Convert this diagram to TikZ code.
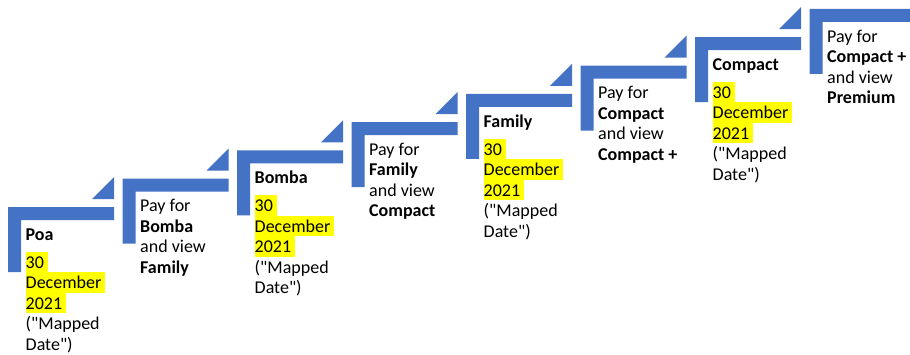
\documentclass[tikz,border=0pt]{standalone}
\usepackage{fontspec}
\setmainfont{Carlito}[Ligatures=TeXOff]
\definecolor{stepblue}{HTML}{4472C4}
\definecolor{hlyellow}{HTML}{FFFF00}
\newcommand{\hstrut}{\rule[-4pt]{0pt}{20.5pt}}
\newcommand{\hl}[1]{{\fboxsep=0pt\colorbox{hlyellow}{\hstrut#1\kern4pt}}}
\tikzset{
  stepbar/.style={fill=stepblue, draw=none},
  steptext/.style={anchor=north west, inner sep=0pt, align=left,
    xshift=17.5pt, yshift=-16.5pt, font=\fontsize{18}{20.5}\selectfont}
}
\begin{document}
\begin{tikzpicture}[x=1pt,y=-1pt]
\useasboundingbox (0,0) rectangle (910,354);
\clip (0,0) rectangle (910,354);

% the stairs
\foreach \i in {0,...,7}{
  \coordinate (s\i) at ({8+114.5*\i},{207-28.3*\i});
  \fill[stepbar] (s\i) -- ++(106,0) -- ++(0,13) -- ++(-93,0) -- ++(0,52) -- ++(-13,0) -- cycle;
}
\foreach \i in {0,...,6}{
  \fill[stepbar] (s\i) ++(106,-8) -- ++(0,-22) -- ++(-22,22) -- cycle;
}

\node[steptext] (poa) at (s0) {\hstrut\textbf{Poa}\\[7.5pt] \hl{30}\\ \hl{December}\\ \hl{2021}\\ \hstrut("Mapped\\ \hstrut Date")};
\node[steptext] (paybomba) at (s1) {\hstrut Pay for\\ \textbf{Bomba}\\ and view\\ \textbf{Family}};
\node[steptext] (bomba) at (s2) {\hstrut\textbf{Bomba}\\[7.5pt] \hl{30}\\ \hl{December}\\ \hl{2021}\\ \hstrut("Mapped\\ \hstrut Date")};
\node[steptext] (payfamily) at (s3) {\hstrut Pay for\\ \textbf{Family}\\ and view\\ \textbf{Compact}};
\node[steptext] (family) at (s4) {\hstrut\textbf{Family}\\[7.5pt] \hl{30}\\ \hl{December}\\ \hl{2021}\\ \hstrut("Mapped\\ \hstrut Date")};
\node[steptext] (paycompact) at (s5) {\hstrut Pay for\\ \textbf{Compact}\\ and view\\ \textbf{Compact +}};
\node[steptext] (compact) at (s6) {\hstrut\textbf{Compact}\\[7.5pt] \hl{30}\\ \hl{December}\\ \hl{2021}\\ \hstrut("Mapped\\ \hstrut Date")};
\node[steptext] (paycompactplus) at (s7) {\hstrut Pay for\\ \textbf{Compact +}\\ and view\\ \textbf{Premium}};
\end{tikzpicture}
\end{document}
